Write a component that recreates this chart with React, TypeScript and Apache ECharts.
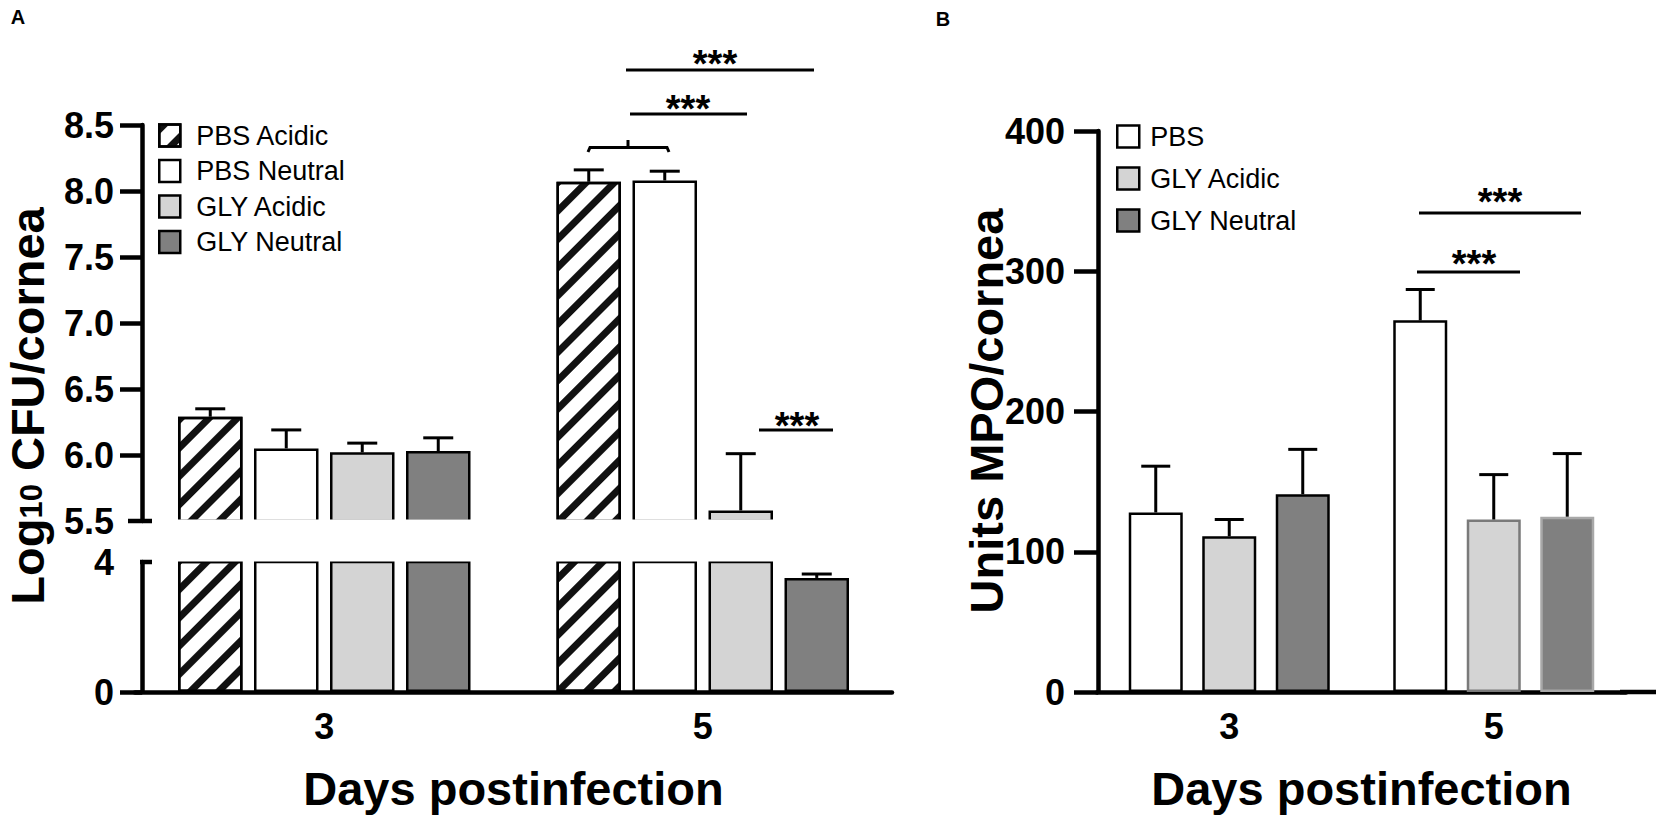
import React, { useEffect, useRef } from 'react';
import * as echarts from 'echarts';

// ---------------- data ----------------
const days = ['3', '5'];

// Panel A: Log10 CFU/cornea, mean and SEM per day
const cfuSeriesNames = ['PBS Acidic', 'PBS Neutral', 'GLY Acidic', 'GLY Neutral'];
const cfuPbsAcidic = [6.29, 8.07];
const cfuPbsAcidicSem = [0.06, 0.09];
const cfuPbsNeutral = [6.05, 8.08];
const cfuPbsNeutralSem = [0.14, 0.07];
const cfuGlyAcidic = [6.02, 5.58];
const cfuGlyAcidicSem = [0.07, 0.43];
const cfuGlyNeutral = [6.03, 3.51];
const cfuGlyNeutralSem = [0.1, 0.12];

// broken axis: upper segment and lower segment
const cfuUpperAxis = { min: 5.5, max: 8.5, interval: 0.5 };
const cfuUpperTickValues = [6, 6.5, 7, 7.5, 8, 8.5];
const cfuLowerAxis = { min: 0, max: 4, interval: 4 };
const cfuLowerTickValues = [0];

// Panel B: Units MPO/cornea, mean and SEM per day
const mpoSeriesNames = ['PBS', 'GLY Acidic', 'GLY Neutral'];
const mpoPbs = [128, 265];
const mpoPbsSem = [33, 22];
const mpoGlyAcidic = [111, 123];
const mpoGlyAcidicSem = [12, 32];
const mpoGlyNeutral = [141, 125];
const mpoGlyNeutralSem = [32, 45];
const mpoAxis = { min: 0, max: 400, interval: 100 };

const sigLabel = '***';

// ---------------- styles / layout ----------------
const FONT = "'Liberation Sans', Arial, Helvetica, sans-serif";
const AXW = 4.5;
const BORDER = 2.5;

const hatch = {
  symbol: 'rect',
  symbolSize: 1,
  color: '#111111',
  dashArrayX: [1, 0],
  dashArrayY: [7, 13],
  rotation: -Math.PI / 4,
};

const cfuStyles: any[] = [
  { color: '#ffffff', borderColor: '#000', borderWidth: BORDER, decal: hatch },
  { color: '#ffffff', borderColor: '#000', borderWidth: BORDER },
  { color: '#d4d4d4', borderColor: '#000', borderWidth: BORDER },
  { color: '#808080', borderColor: '#000', borderWidth: BORDER },
];
const mpoStyles: any[] = [
  { color: '#ffffff', borderColor: '#000', borderWidth: BORDER },
  { color: '#d4d4d4', borderColor: '#000', borderWidth: BORDER },
  { color: '#808080', borderColor: '#000', borderWidth: BORDER },
];
const mpoDay5Borders = [null, '#7a7a7a', '#a8a8a8'];

const L_BW = 64.5;
const L_GAP = (76 - L_BW) / L_BW;
const R_BW = 54;
const R_GAP = (73.5 - R_BW) / R_BW;

const gridA_up = { left: 135, top: 125, width: 757, height: 396 };
const gridA_lo = { left: 135, top: 562, width: 757, height: 130 };
const gridB = { left: 1097, top: 131, width: 529, height: 561 };

const sigA = [
  { x1: 626, x2: 814, y: 70, tx: 715, ty: 53 },
  { x1: 630, x2: 747, y: 114, tx: 688, ty: 98 },
  { x1: 759, x2: 833, y: 430, tx: 797, ty: 415 },
];
const sigB = [
  { x1: 1419, x2: 1581, y: 213, tx: 1500, ty: 191 },
  { x1: 1417, x2: 1520, y: 272, tx: 1474, ty: 253 },
];

// ---------------- helpers ----------------
function errorRenderer(n: number, bw: number, gap: number, capW: number) {
  const step = bw * (1 + gap);
  return (params: any, api: any) => {
    const cat = api.value(0);
    const k = api.value(1);
    const mean = api.value(2);
    const top = api.value(3);
    const p0 = api.coord([cat, mean]);
    const p1 = api.coord([cat, top]);
    const x = p0[0] + (k - (n - 1) / 2) * step;
    const st = { stroke: '#000', lineWidth: 3 };
    return {
      type: 'group',
      children: [
        { type: 'line', shape: { x1: x, y1: p0[1], x2: x, y2: p1[1] }, style: st },
        { type: 'line', shape: { x1: x - capW / 2, y1: p1[1], x2: x + capW / 2, y2: p1[1] }, style: st },
      ],
    };
  };
}

function valueAxis(
  gridIndex: number,
  ax: any,
  offset: number,
  tickLen: number,
  margin: number,
  fmt?: (v: number) => string,
  tickValues?: number[]
) {
  const tick: any = { show: true, length: tickLen, lineStyle: { color: '#000', width: AXW } };
  if (tickValues) tick.customValues = tickValues;
  return {
    type: 'value',
    gridIndex,
    min: ax.min,
    max: ax.max,
    interval: ax.interval,
    offset,
    axisLine: { show: true, lineStyle: { color: '#000', width: AXW } },
    axisTick: tick,
    axisLabel: {
      fontSize: 36,
      fontWeight: 'bold',
      color: '#000',
      fontFamily: FONT,
      margin,
      formatter: fmt,
    },
    splitLine: { show: false },
  };
}

function catAxis(gridIndex: number, visible: boolean) {
  return {
    type: 'category',
    gridIndex,
    data: days,
    show: visible,
    axisLine: { show: true, lineStyle: { color: '#000', width: AXW } },
    axisTick: { show: false },
    axisLabel: { fontSize: 36, fontWeight: 'bold', color: '#000', fontFamily: FONT, margin: 16 },
    name: 'Days postinfection',
    nameLocation: 'middle',
    nameGap: 73,
    nameTextStyle: { fontSize: 47, fontWeight: 'bold', color: '#000', fontFamily: FONT },
  };
}

function buildOption() {
  const cfuMeans = [cfuPbsAcidic, cfuPbsNeutral, cfuGlyAcidic, cfuGlyNeutral];
  const cfuSems = [cfuPbsAcidicSem, cfuPbsNeutralSem, cfuGlyAcidicSem, cfuGlyNeutralSem];
  const mpoMeans = [mpoPbs, mpoGlyAcidic, mpoGlyNeutral];
  const mpoSems = [mpoPbsSem, mpoGlyAcidicSem, mpoGlyNeutralSem];
  const brk = cfuUpperAxis.min;

  const series: any[] = [];
  cfuMeans.forEach((m, k) => {
    series.push({
      type: 'bar',
      name: cfuSeriesNames[k],
      xAxisIndex: 0,
      yAxisIndex: 0,
      data: m.map((v) => (v >= brk ? v : null)),
      barWidth: L_BW,
      barGap: `${(L_GAP * 100).toFixed(2)}%`,
      itemStyle: cfuStyles[k],
      clip: true,
      z: 2,
    });
  });
  cfuMeans.forEach((m, k) => {
    series.push({
      type: 'bar',
      name: cfuSeriesNames[k],
      xAxisIndex: 1,
      yAxisIndex: 1,
      data: m,
      barWidth: L_BW,
      barGap: `${(L_GAP * 100).toFixed(2)}%`,
      itemStyle: cfuStyles[k],
      clip: true,
      z: 2,
    });
  });
  const upErr: number[][] = [];
  const loErr: number[][] = [];
  cfuMeans.forEach((m, k) => {
    m.forEach((v, i) => {
      const row = [i, k, v, v + cfuSems[k][i]];
      (v >= brk ? upErr : loErr).push(row);
    });
  });
  series.push({
    type: 'custom',
    xAxisIndex: 0,
    yAxisIndex: 0,
    data: upErr,
    encode: { x: 0, y: [2, 3] },
    renderItem: errorRenderer(4, L_BW, L_GAP, 30),
    clip: false,
    z: 5,
  });
  series.push({
    type: 'custom',
    xAxisIndex: 1,
    yAxisIndex: 1,
    data: loErr,
    encode: { x: 0, y: [2, 3] },
    renderItem: errorRenderer(4, L_BW, L_GAP, 30),
    clip: false,
    z: 5,
  });

  mpoMeans.forEach((m, k) => {
    series.push({
      type: 'bar',
      name: mpoSeriesNames[k],
      xAxisIndex: 2,
      yAxisIndex: 2,
      data: m.map((v, i) =>
        i === 1 && mpoDay5Borders[k] ? { value: v, itemStyle: { borderColor: mpoDay5Borders[k] } } : v
      ),
      barWidth: R_BW,
      barGap: `${(R_GAP * 100).toFixed(2)}%`,
      itemStyle: mpoStyles[k],
      z: 2,
    });
  });
  const mpoErr: number[][] = [];
  mpoMeans.forEach((m, k) => m.forEach((v, i) => mpoErr.push([i, k, v, v + mpoSems[k][i]])));
  series.push({
    type: 'custom',
    xAxisIndex: 2,
    yAxisIndex: 2,
    data: mpoErr,
    encode: { x: 0, y: [2, 3] },
    renderItem: errorRenderer(3, R_BW, R_GAP, 29),
    clip: false,
    z: 5,
  });

  const lineStyle = { stroke: '#000', lineWidth: 3 };
  const axStyle = { stroke: '#000', lineWidth: AXW };
  const graphic: any[] = [];
  // break gap in panel A
  graphic.push({
    type: 'rect',
    shape: { x: 145, y: 519.5, width: 752, height: 42 },
    style: { fill: '#fff' },
    z: 50,
  });
  graphic.push({ type: 'line', shape: { x1: 128, y1: 521, x2: 152, y2: 521 }, style: axStyle, z: 60 });
  graphic.push({ type: 'line', shape: { x1: 140, y1: 562, x2: 152, y2: 562 }, style: axStyle, z: 60 });
  // right x-axis extension
  graphic.push({ type: 'line', shape: { x1: 1620, y1: 692, x2: 1656, y2: 692 }, style: axStyle, z: 60 });

  const starFs = 38;
  [...sigA, ...sigB].forEach((s) => {
    graphic.push({ type: 'line', shape: { x1: s.x1, y1: s.y, x2: s.x2, y2: s.y }, style: lineStyle, z: 60 });
    graphic.push({
      type: 'text',
      x: s.tx,
      y: s.ty + 0.28 * starFs,
      style: {
        text: sigLabel,
        fontSize: starFs,
        fontWeight: 'bold',
        fontFamily: FONT,
        fill: '#000',
        align: 'center',
        verticalAlign: 'middle',
      },
      z: 60,
    });
  });
  // bracket between PBS Acidic and PBS Neutral at day 5
  graphic.push({
    type: 'polyline',
    shape: { points: [[588, 152], [590, 147.5], [667, 147.5], [669, 152]] },
    style: { stroke: '#000', lineWidth: 3, fill: null },
    z: 60,
  });
  graphic.push({ type: 'line', shape: { x1: 628, y1: 147, x2: 628, y2: 140 }, style: lineStyle, z: 60 });

  // axis titles
  graphic.push({
    type: 'text',
    x: 27,
    y: 406,
    rotation: Math.PI / 2,
    style: {
      text: '{a|Log}{s|10}{a| CFU/cornea}',
      rich: {
        a: { fontSize: 47, fontWeight: 'bold', fontFamily: FONT, fill: '#000', lineHeight: 40 },
        s: { fontSize: 31, fontWeight: 'bold', fontFamily: FONT, fill: '#000', verticalAlign: 'bottom', lineHeight: 15 },
      },
      align: 'center',
      verticalAlign: 'middle',
    },
    z: 60,
  });
  graphic.push({
    type: 'text',
    x: 986,
    y: 411,
    rotation: Math.PI / 2,
    style: {
      text: 'Units MPO/cornea',
      fontSize: 47,
      fontWeight: 'bold',
      fontFamily: FONT,
      fill: '#000',
      align: 'center',
      verticalAlign: 'middle',
    },
    z: 60,
  });
  graphic.push({
    type: 'text', x: 18, y: 17,
    style: { text: 'A', fontSize: 20, fontWeight: 'bold', fontFamily: FONT, fill: '#000', align: 'center', verticalAlign: 'middle' },
    z: 60,
  });
  graphic.push({
    type: 'text', x: 943, y: 19,
    style: { text: 'B', fontSize: 20, fontWeight: 'bold', fontFamily: FONT, fill: '#000', align: 'center', verticalAlign: 'middle' },
    z: 60,
  });

  const legendText = (fs: number, padL: number) => ({
    fontSize: fs,
    color: '#000',
    fontFamily: FONT,
    padding: [0, 0, 0, padL],
  });

  return {
    animation: false,
    backgroundColor: '#fff',
    textStyle: { fontFamily: FONT },
    grid: [gridA_up, gridA_lo, gridB].map((g) => ({ ...g, containLabel: false })),
    xAxis: [catAxis(0, false), catAxis(1, true), catAxis(2, true)],
    yAxis: [
      valueAxis(0, cfuUpperAxis, -7, 22, 28, (v: number) => v.toFixed(1), cfuUpperTickValues),
      valueAxis(1, cfuLowerAxis, -7, 22, 28, undefined, cfuLowerTickValues),
      valueAxis(2, mpoAxis, -1, 24, 33),
    ],
    legend: [
      {
        left: 158,
        top: 122,
        orient: 'vertical',
        icon: 'rect',
        itemWidth: 21,
        itemHeight: 22,
        itemGap: 8.5,
        padding: 0,
        selectedMode: false,
        data: cfuSeriesNames,
        itemStyle: { borderWidth: BORDER, borderColor: '#000' },
        textStyle: legendText(27, 11),
      },
      {
        left: 1116,
        top: 123,
        orient: 'vertical',
        icon: 'rect',
        itemWidth: 22,
        itemHeight: 22,
        itemGap: 15,
        padding: 0,
        selectedMode: false,
        data: mpoSeriesNames,
        itemStyle: { borderWidth: BORDER, borderColor: '#000' },
        textStyle: legendText(27, 6),
      },
    ],
    graphic,
    series,
  };
}

export default function App() {
  const ref = useRef<HTMLDivElement>(null);
  useEffect(() => {
    if (!ref.current) return;
    const chart = echarts.init(ref.current, null, { renderer: 'svg' });
    chart.setOption(buildOption() as any);
    return () => chart.dispose();
  }, []);
  return (
    <div
      ref={ref}
      style={{ position: 'fixed', left: 0, top: 0, width: 1656, height: 817, background: '#fff' }}
    />
  );
}
